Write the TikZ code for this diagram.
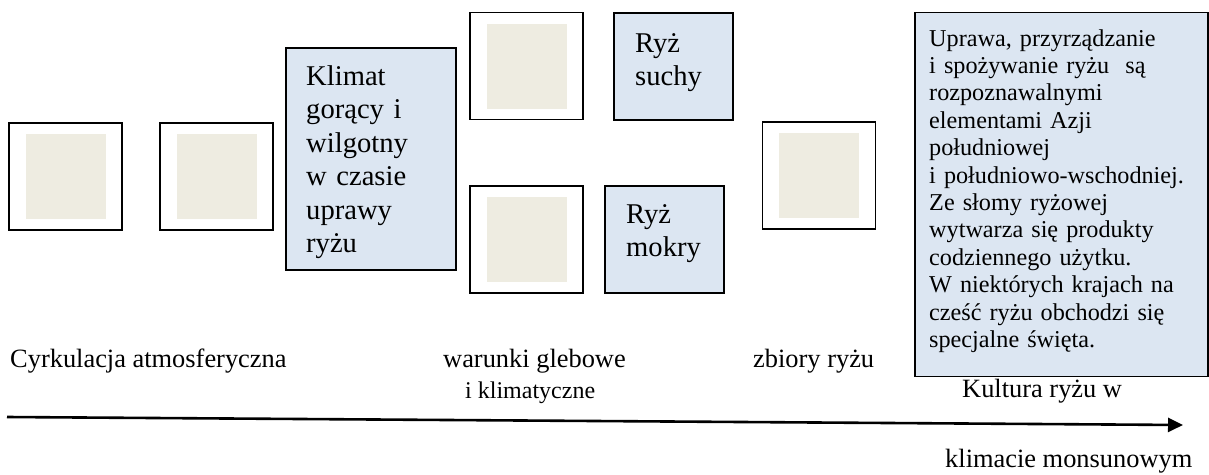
\documentclass[tikz,border=0pt]{standalone}
\usepackage{fontspec}
\setmainfont{Liberation Serif}
\usepackage{xcolor}
\usepackage{tikz}
\usetikzlibrary{arrows.meta,calc}

\definecolor{bez}{HTML}{EEECE1}
\definecolor{niebieski}{HTML}{DCE6F2}

\begin{document}
\begin{tikzpicture}[x=1pt, y=-1pt,
    fotobox/.style={draw=black, line width=1.6pt, fill=white, inner sep=0pt,
        minimum width=113pt, minimum height=107pt},
    fotoin/.style={fill=bez, inner sep=0pt, minimum width=80pt, minimum height=85pt},
    ramka/.style={draw=black, line width=1.6pt, fill=niebieski, inner sep=0pt},
    tekst/.style={inner sep=0pt, anchor=base west, align=left, text width=160pt,
        font=\fontsize{28.6}{33.5}\selectfont},
    opis/.style={inner sep=0pt, anchor=base west, align=left, text width=275pt,
        font=\fontsize{24.2}{27.4}\selectfont},
    etykieta/.style={inner sep=0pt, anchor=base west, font=\fontsize{26.4}{30}\selectfont}]
    \useasboundingbox (0,0) rectangle (1209,474);

    \node[fotobox] (F1) at (65.5,176.5) {};
    \node[fotoin] (F1in) at (F1) {};
    \node[fotobox] (F2) at (216.5,176.5) {};
    \node[fotoin] (F2in) at (F2) {};
    \node[fotobox] (F3) at (526.5,66) {};
    \node[fotoin] (F3in) at (F3) {};
    \node[fotobox] (F4) at (526.5,239.5) {};
    \node[fotoin] (F4in) at (F4) {};
    \node[fotobox] (F5) at (819,175.5) {};
    \node[fotoin] (F5in) at (F5) {};

    \node[ramka, minimum width=170pt, minimum height=222pt] (klimat) at (371,159) {};
    \node[tekst] (klimatTxt) at (306,85)
        {Klimat\\gorący i\\wilgotny\\w czasie\\uprawy\\ryżu};
    \node[ramka, minimum width=119pt, minimum height=107pt] (suchy) at (673.5,66.5) {};
    \node[tekst] (suchyTxt) at (635,52) {Ryż\\suchy};
    \node[ramka, minimum width=119pt, minimum height=107pt] (mokry) at (664.5,239.5) {};
    \node[tekst] (mokryTxt) at (626,223) {Ryż\\mokry};
    \node[ramka, minimum width=293pt, minimum height=364pt] (kultura) at (1061.5,194.5) {};
    \node[opis] (kulturaTxt) at (929,46)
        {Uprawa, przyrządzanie\\i spożywanie ryżu~~są\\rozpoznawalnymi\\elementami Azji\\
         południowej\\i południowo-wschodniej.\\Ze słomy ryżowej\\wytwarza się produkty\\
         codziennego użytku.\\W niektórych krajach na\\cześć ryżu obchodzi się\\specjalne święta.};

    \node[etykieta] (cyrk) at (10,367) {Cyrkulacja atmosferyczna};
    \node[etykieta] (warunki) at (443,367) {warunki glebowe};
    \node[etykieta, font=\fontsize{24}{28}\selectfont] (warunki2) at (465,398) {i klimatyczne};
    \node[etykieta] (zbiory) at (753,367) {zbiory ryżu};
    \node[etykieta] (kult1) at (962,397) {Kultura ryżu w};
    \node[etykieta] (kult2) at (945,467) {klimacie monsunowym};

    \coordinate (start) at (7,417);
    \coordinate (koniec) at (1183,425);
    \draw[line width=2.6pt, -{Triangle[length=15pt, width=14pt]}] (start) -- (koniec);
\end{tikzpicture}
\end{document}
